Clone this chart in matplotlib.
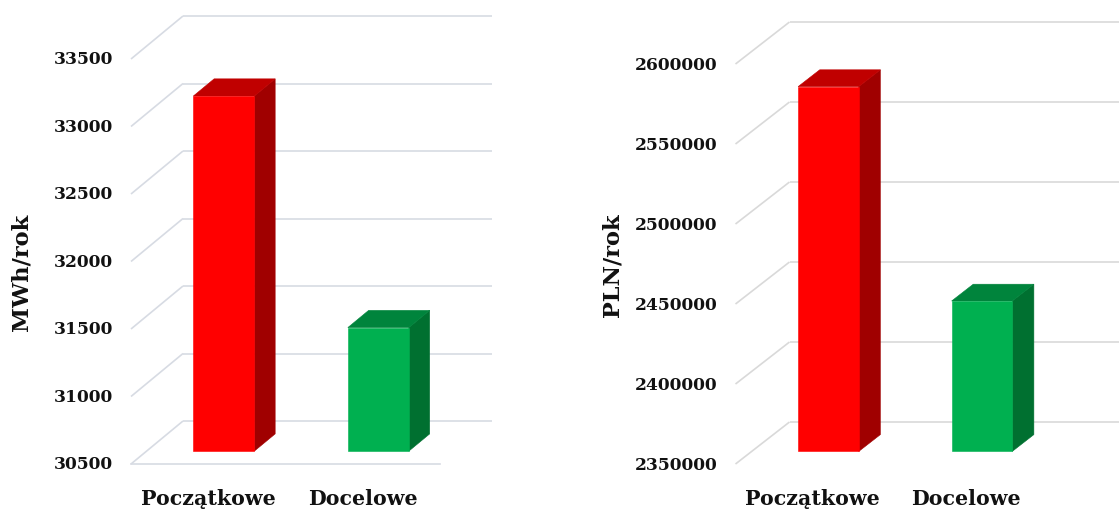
import matplotlib
matplotlib.use('Agg')
import matplotlib.pyplot as plt
from matplotlib.patches import Polygon

categories = ['Początkowe', 'Docelowe']
energy_mwh = [33130, 31415]
cost_pln = [2578000, 2444000]
energy_ticks = [30500, 31000, 31500, 32000, 32500, 33000, 33500]
cost_ticks = [2350000, 2400000, 2450000, 2500000, 2550000, 2600000]
front_colors = ['#FF0000', '#00B050']
top_colors = ['#C00000', '#00843C']
side_colors = ['#A00000', '#007030']

DPI = 100
FW, FH = 1119, 510
fig = plt.figure(figsize=(FW / DPI, FH / DPI), dpi=DPI)
FONT = 'DejaVu Serif'


def panel(px_rect, ticks, values, ylabel, ylabel_xy, depth_px, grid_color,
          back_extend, floor_line):
    x, y, w, h = px_rect
    ax = fig.add_axes([x / FW, y / FH, w / FW, h / FH])
    ax.set_xlim(-0.5, 1.5)
    ax.set_ylim(ticks[0], ticks[-1])
    ax.axis('off')
    ux = 2.0 / w
    uy = (ticks[-1] - ticks[0]) / h
    DX, DY = depth_px

    def P(xx, v, d):
        return (xx + d * DX * ux, v + d * DY * uy)

    lw = 1.2
    for t in ticks:
        a, b = P(-0.5, t, 0), P(-0.5, t, 1)
        ax.plot([a[0], b[0]], [a[1], b[1]], color=grid_color, lw=lw,
                clip_on=False, zorder=1, solid_capstyle='butt')
        c = P(back_extend, t, 1)
        ax.plot([b[0], c[0]], [b[1], c[1]], color=grid_color, lw=lw,
                clip_on=False, zorder=1, solid_capstyle='butt')
        ax.annotate(f'{t}', P(-0.5, t, 0), xytext=(-13, 0),
                    textcoords='offset points', ha='right', va='center',
                    fontsize=12.3, fontweight='bold', family=FONT,
                    color='#111111', annotation_clip=False)
    if floor_line:
        a, b = P(-0.5, ticks[0], 0), P(1.5, ticks[0], 0)
        ax.plot([a[0], b[0]], [a[1], b[1]], color=grid_color, lw=lw,
                clip_on=False, zorder=1)

    bw = 0.395
    d0, d1 = 0.3, 0.7
    base = ticks[0]
    for i, v in enumerate(values):
        x0, x1 = i - bw / 2, i + bw / 2
        front = [P(x0, base, d0), P(x1, base, d0), P(x1, v, d0), P(x0, v, d0)]
        side = [P(x1, base, d0), P(x1, base, d1), P(x1, v, d1), P(x1, v, d0)]
        top = [P(x0, v, d0), P(x1, v, d0), P(x1, v, d1), P(x0, v, d1)]
        for pts, col in ((side, side_colors[i]), (top, top_colors[i]),
                         (front, front_colors[i])):
            ax.add_patch(Polygon(pts, closed=True, facecolor=col,
                                 edgecolor=col, lw=0.4, zorder=3,
                                 clip_on=False))
        ax.annotate(categories[i], (i, base), xytext=(0, -28.5),
                    textcoords='offset points', ha='center', va='baseline',
                    fontsize=14.8, fontweight='bold', family=FONT,
                    color='#111111', annotation_clip=False)
    fig.text(ylabel_xy[0] / FW, ylabel_xy[1] / FH, ylabel, rotation=90,
             ha='center', va='center', fontsize=16.2, fontweight='bold',
             family=FONT, color='#111111')
    return ax


panel((131, 45, 309, 405), energy_ticks, energy_mwh, 'MWh/rok', (22, 238),
      (52, 43), '#D7DBE3', 1.5, True)
panel((735.5, 45, 307, 400), cost_ticks, cost_pln, 'PLN/rok', (613, 245),
      (54, 42), '#D9D9D9', 1.8, False)

fig.savefig('out.png', dpi=DPI, facecolor='white')
